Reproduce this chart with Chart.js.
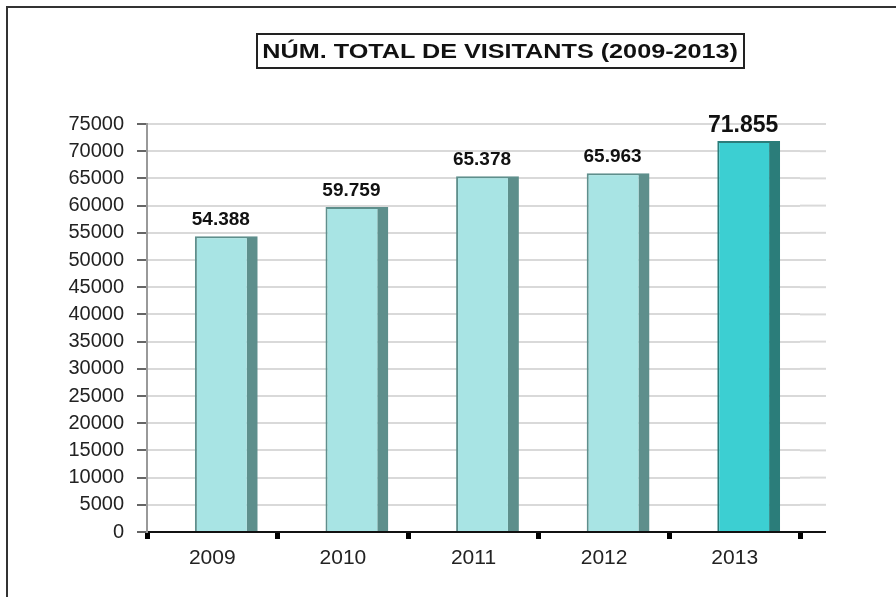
<!DOCTYPE html>
<html>
<head>
<meta charset="utf-8">
<script src="https://cdn.jsdelivr.net/npm/chart.js@4"></script>
<style>
    html, body { margin: 0; padding: 0; background: #fff; }
    #wrap { position: relative; width: 896px; height: 597px; overflow: hidden; }
    #frame { position: absolute; left: 6px; top: 6px; right: -10px; bottom: -10px;
             border-top: 2px solid #333; border-left: 2px solid #333; }
    #title { position: absolute; left: 256px; top: 33px; width: 485px; height: 32px;
             border: 2px solid #222; font: bold 21px "Liberation Sans", Arial, sans-serif;
             color: #111; text-align: center; line-height: 32px; }
    #title span { display: inline-block; transform: scaleX(1.2); }
    canvas { position: absolute; left: 0; top: 0; }
</style>
</head>
<body>
<div id="wrap">
    <div id="frame"></div>
    <canvas id="visitChart" width="896" height="597"></canvas>
    <div id="title"><span>NÚM. TOTAL DE VISITANTS (2009-2013)</span></div>
</div>
<script>
// Data
const years = ['2009', '2010', '2011', '2012', '2013'];
const visitors = [54388, 59759, 65378, 65963, 71855];
const frontColors = ['#a8e4e4', '#a8e4e4', '#a8e4e4', '#a8e4e4', '#3ccfd2'];
const sideColors = ['#5e8f8c', '#5e8f8c', '#5e8f8c', '#5e8f8c', '#2b7d7a'];

const SHIFT = 14;   // 3D look: bars sit a bit right of the category centre
const SIDE = 11;    // width of the darker side face

// dot as thousands separator
function formatNum(n) {
    return String(n).replace(/\B(?=(\d{3})+(?!\d))/g, '.');
}

// Shift bars to the right and print the values above them
const barExtras = {
    id: 'barExtras',
    beforeDatasetsDraw(chart) {
        chart.ctx.save();
        chart.ctx.translate(SHIFT, 0);
    },
    afterDatasetsDraw(chart) {
        const ctx = chart.ctx;
        ctx.restore();
        const meta = chart.getDatasetMeta(0);
        ctx.save();
        ctx.fillStyle = '#111';
        ctx.textAlign = 'center';
        ctx.textBaseline = 'bottom';
        meta.data.forEach((bar, i) => {
            const last = i === meta.data.length - 1;
            ctx.font = last ? 'bold 23px "Liberation Sans", Arial, sans-serif'
                            : 'bold 19px "Liberation Sans", Arial, sans-serif';
            const cx = bar.x + SHIFT - SIDE / 2;
            ctx.fillText(formatNum(visitors[i]), cx, bar.y - (last ? 4 : 7));
        });
        ctx.restore();
    },
    afterDraw(chart) {
        // gridlines and x axis run a little past the last category
        const ctx = chart.ctx;
        const area = chart.chartArea;
        const yScale = chart.scales.y;
        ctx.save();
        ctx.strokeStyle = '#d9d9d9';
        ctx.lineWidth = 2;
        yScale.ticks.forEach(t => {
            if (t.value === 0) return;
            const y = yScale.getPixelForValue(t.value);
            ctx.beginPath();
            ctx.moveTo(area.right, y);
            ctx.lineTo(area.right + 26, y);
            ctx.stroke();
        });
        ctx.strokeStyle = '#111';
        ctx.beginPath();
        ctx.moveTo(area.right, area.bottom);
        ctx.lineTo(area.right + 26, area.bottom);
        ctx.stroke();
        ctx.restore();
    }
};

const ctx = document.getElementById('visitChart').getContext('2d');
new Chart(ctx, {
    type: 'bar',
    data: {
        labels: years,
        datasets: [{
            data: visitors,
            backgroundColor: frontColors,
            borderColor: sideColors,
            borderWidth: { top: 2, left: 2, right: SIDE, bottom: 0 },
            borderSkipped: false,
            barPercentage: 63 / 131,
            categoryPercentage: 1
        }]
    },
    options: {
        responsive: false,
        animation: false,
        layout: { padding: { left: 0, right: 96, top: 124, bottom: 0 } },
        plugins: {
            legend: { display: false },
            tooltip: { enabled: false }
        },
        scales: {
            x: {
                afterFit: scale => { scale.height = 65; },
                grid: {
                    offset: true,
                    drawOnChartArea: false,
                    tickLength: 7,
                    tickWidth: 5,
                    tickColor: '#000'
                },
                border: { color: '#111', width: 2 },
                ticks: {
                    color: '#222',
                    padding: 7,
                    font: { family: '"Liberation Sans", Arial, sans-serif', size: 21 }
                }
            },
            y: {
                min: 0,
                max: 75000,
                afterFit: scale => { scale.width = 147; },
                grid: {
                    color: '#d9d9d9',
                    lineWidth: 2,
                    tickLength: 10,
                    tickColor: '#333',
                    tickWidth: 1.5
                },
                border: { color: '#999', width: 2 },
                ticks: {
                    stepSize: 5000,
                    color: '#222',
                    padding: 13,
                    callback: value => String(value),
                    font: { family: '"Liberation Sans", Arial, sans-serif', size: 20 }
                }
            }
        }
    },
    plugins: [barExtras]
});
</script>
</body>
</html>
